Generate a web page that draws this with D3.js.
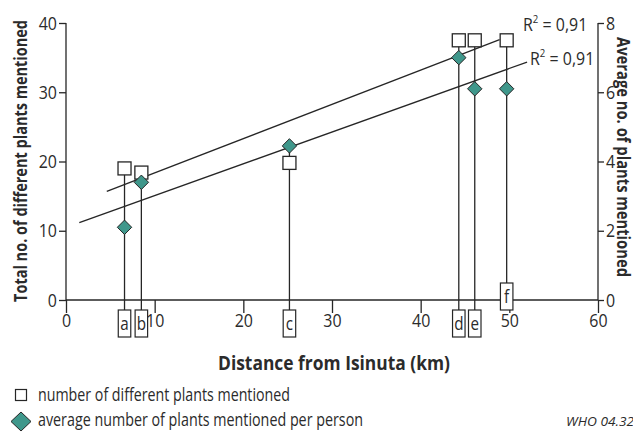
<!DOCTYPE html>
<html>
<head>
<meta charset="utf-8">
<script src="https://cdn.jsdelivr.net/npm/d3@7/dist/d3.min.js"></script>
<style>
  html, body { margin: 0; padding: 0; background: #fff; }
  svg { display: block; }
  text { font-family: "Open Sans", "DejaVu Sans", sans-serif; fill: #2b2b2b; }
</style>
</head>
<body>
<svg id="chart" width="633" height="432"></svg>
<script>
// ---- data ----
const sites        = ["a", "b", "c", "d", "e", "f"];
const distanceKm   = [6.6, 8.5, 25.2, 44.3, 46.1, 49.7];
const plantCount   = [19, 18.4, 19.8, 37.5, 37.5, 37.5];      // left axis
const avgPerPerson = [2.1, 3.4, 4.45, 7.0, 6.1, 6.1];         // right axis
const fitRangeCount = [4.6, 48.9];   // km extent of the fitted line (squares)
const fitRangeAvg   = [1.5, 52.0];   // km extent of the fitted line (diamonds)
const r2Labels = ["0,91", "0,91"];
const xTicks = [0, 10, 20, 30, 40, 50, 60];
const yLeftTicks = [0, 10, 20, 30, 40];
const yRightTicks = [0, 2, 4, 6, 8];
const xTitle = "Distance from Isinuta (km)";
const yLeftTitle = "Total no. of different plants mentioned";
const yRightTitle = "Average no. of plants mentioned";
const legendLabels = ["number of different plants mentioned", "average number of plants mentioned per person"];
const credit = "WHO 04.32";

const svg = d3.select("#chart");
const ink = "#262626";
const teal = "#3f978b";

// condense a text element horizontally (reference face is a condensed sans)
function squeeze(sel, factor, target) {
  sel.each(function () {
    const w = this.getComputedTextLength();
    const t = target != null ? target : w * factor;
    d3.select(this).attr("textLength", t).attr("lengthAdjust", "spacingAndGlyphs");
  });
  return sel;
}

const x = d3.scaleLinear().domain([0, 60]).range([66, 598]);
const yL = d3.scaleLinear().domain([0, 40]).range([300, 23]);
const yR = d3.scaleLinear().domain([0, 8]).range([300, 23]);

// least squares fit
function fit(xs, ys) {
  const mx = d3.mean(xs), my = d3.mean(ys);
  let sxy = 0, sxx = 0;
  xs.forEach((v, i) => { sxy += (v - mx) * (ys[i] - my); sxx += (v - mx) * (v - mx); });
  const b = sxy / sxx;
  return v => my + b * (v - mx);
}

// axes
const fontTick = 19;
const gx = svg.append("g").attr("transform", "translate(0,300)")
  .call(d3.axisBottom(x).tickValues(xTicks).tickSize(13).tickPadding(1).tickFormat(d3.format("d")));
const gl = svg.append("g").attr("transform", "translate(66,0)")
  .call(d3.axisLeft(yL).tickValues(yLeftTicks).tickSize(7).tickPadding(2));
const gr = svg.append("g").attr("transform", "translate(598,0)")
  .call(d3.axisRight(yR).tickValues(yRightTicks).tickSize(6).tickPadding(2));
[gx, gl, gr].forEach(g => {
  g.select(".domain").attr("stroke", ink).attr("stroke-width", 1.3);
  g.selectAll(".tick line").attr("stroke", ink).attr("stroke-width", 1.3);
  g.selectAll(".tick text").attr("font-size", fontTick).attr("fill", "#2b2b2b")
    .style("font-family", '"Open Sans", sans-serif');
  squeeze(g.selectAll(".tick text"), 0.84);
});
gx.select(".domain").attr("d", "M66,0H598");
gl.select(".domain").attr("d", "M0,300V23");
gr.select(".domain").attr("d", "M0,300V23");

// fitted lines
const fC = fit(distanceKm, plantCount);
const fA = fit(distanceKm, avgPerPerson);
const line = d3.line();
svg.append("path").attr("d", line(fitRangeCount.map(v => [x(v), yL(fC(v))])))
  .attr("stroke", ink).attr("stroke-width", 1.3).attr("fill", "none");
svg.append("path").attr("d", line(fitRangeAvg.map(v => [x(v), yR(fA(v))])))
  .attr("stroke", ink).attr("stroke-width", 1.3).attr("fill", "none");

// R² labels
function r2(xp, yp, val) {
  const g = svg.append("g").attr("transform", `translate(${xp},${yp}) scale(0.84,1)`);
  const t = g.append("text").attr("x", 0).attr("y", 0).attr("font-size", 19);
  t.append("tspan").text("R");
  t.append("tspan").attr("font-size", 11.5).attr("dy", -8).text("2");
  t.append("tspan").attr("dy", 8).text(" = " + val);
}
r2(523, 31, r2Labels[0]);
r2(530, 65, r2Labels[1]);

// drop lines and site boxes
const boxW = 12.5, boxH = 27;
sites.forEach((s, i) => {
  const cx = x(distanceKm[i]);
  const raised = s === "f";
  const boxTop = raised ? 283 : 310;
  const topY = Math.min(yL(plantCount[i]), yR(avgPerPerson[i]));
  svg.append("line").attr("x1", cx).attr("x2", cx).attr("y1", topY).attr("y2", boxTop)
    .attr("stroke", ink).attr("stroke-width", 1.3);
  svg.append("rect").attr("x", cx - boxW / 2).attr("y", boxTop).attr("width", boxW).attr("height", boxH)
    .attr("fill", "#fff").attr("stroke", ink).attr("stroke-width", 1.2);
  const t = svg.append("text").attr("x", cx).attr("y", boxTop + 20).attr("text-anchor", "middle")
    .attr("font-size", 19).text(s);
  squeeze(t, 0.8);
});

// markers
const sq = 13, dia = 7.2;
sites.forEach((s, i) => {
  const cx = x(distanceKm[i]);
  svg.append("rect").attr("x", cx - sq / 2).attr("y", yL(plantCount[i]) - sq / 2)
    .attr("width", sq).attr("height", sq).attr("fill", "#fff").attr("stroke", ink).attr("stroke-width", 1.3);
});
sites.forEach((s, i) => {
  const cx = x(distanceKm[i]), cy = yR(avgPerPerson[i]);
  svg.append("path").attr("d", `M${cx},${cy - dia}L${cx + dia},${cy}L${cx},${cy + dia}L${cx - dia},${cy}Z`)
    .attr("fill", teal).attr("stroke", ink).attr("stroke-width", 1);
});

// titles
squeeze(svg.append("text").attr("x", 218).attr("y", 370)
  .attr("font-size", 20).attr("font-weight", "bold").text(xTitle), null, 232);
squeeze(svg.append("text").attr("transform", "translate(27,302) rotate(-90)")
  .attr("font-size", 18).attr("font-weight", "bold").text(yLeftTitle), null, 282);
squeeze(svg.append("text").attr("transform", "translate(617,37) rotate(90)")
  .attr("font-size", 18).attr("font-weight", "bold").text(yRightTitle), null, 240);

// legend
svg.append("rect").attr("x", 15.5).attr("y", 389.5).attr("width", 11).attr("height", 11)
  .attr("fill", "#fff").attr("stroke", ink).attr("stroke-width", 1.2);
squeeze(svg.append("text").attr("x", 38).attr("y", 401).attr("font-size", 18).text(legendLabels[0]), null, 252);
svg.append("path").attr("d", "M21,412L31,421.5L21,431L11,421.5Z").attr("fill", teal).attr("stroke", ink).attr("stroke-width", 1);
squeeze(svg.append("text").attr("x", 38).attr("y", 426).attr("font-size", 18).text(legendLabels[1]), null, 325);
squeeze(svg.append("text").attr("x", 566).attr("y", 426).attr("font-size", 13).attr("font-style", "italic").text(credit), null, 68);
</script>
</body>
</html>
